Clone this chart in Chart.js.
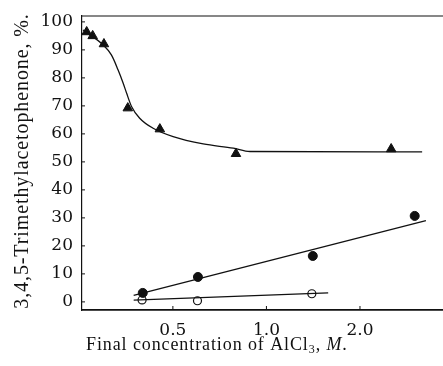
<!DOCTYPE html>
<html>
<head>
<meta charset="utf-8">
<script src="https://cdn.jsdelivr.net/npm/chart.js@4"></script>
<style>
  html, body { margin: 0; padding: 0; background: #fff; }
  #wrap { width: 443px; height: 366px; }
</style>
</head>
<body>
<div id="wrap"><canvas id="chart" width="443" height="366"></canvas></div>
<script>
// concentration ticks (log axis)
const xTicks = [0.5, 1.0, 2.0];
const yTicks = [0, 10, 20, 30, 40, 50, 60, 70, 80, 90, 100];

// triangles: measured points
const triX = [0.264, 0.276, 0.300, 0.358, 0.454, 0.798, 2.52];
const triY = [96.4, 95.0, 92.1, 69.2, 61.7, 52.9, 54.6];
// smooth curve drawn through the triangles
const curveX = [0.257, 0.298, 0.317, 0.333, 0.346, 0.355, 0.368, 0.391, 0.432, 0.501, 0.626, 0.782, 0.885, 3.17];
const curveY = [97.1, 91.8, 88.2, 82.9, 78.1, 74.5, 69.8, 65.6, 62.0, 59.0, 56.4, 54.9, 53.7, 53.6];

// filled circles and their line
const dotX = [0.400, 0.602, 1.41, 3.0];
const dotY = [3.2, 8.9, 16.4, 30.7];
const dotLineX = [0.374, 3.26];
const dotLineY = [2.3, 29.0];

// open circles and their line
const ringX = [0.398, 0.600, 1.40];
const ringY = [0.7, 0.4, 2.9];
const ringLineX = [0.374, 1.58];
const ringLineY = [0.6, 3.2];

function pts(xs, ys) {
    return xs.map((x, i) => ({ x: x, y: ys[i] }));
}

const ink = '#111';

// 축 테두리, 안쪽 눈금, 축 제목
const framePlugin = {
    id: 'frame',
    afterDraw(chart) {
        const ctx = chart.ctx;
        const a = chart.chartArea;
        const xs = chart.scales.x, ys = chart.scales.y;
        ctx.save();
        ctx.strokeStyle = ink;
        ctx.lineWidth = 1.2;
        ctx.beginPath();
        ctx.moveTo(a.left, a.top);
        ctx.lineTo(a.right, a.top);
        ctx.stroke();
        ctx.lineWidth = 1;
        ctx.beginPath();
        xTicks.forEach(v => {
            const px = xs.getPixelForValue(v);
            ctx.moveTo(px, a.bottom);
            ctx.lineTo(px, a.bottom - 4);
        });
        yTicks.forEach(v => {
            const py = ys.getPixelForValue(v);
            ctx.moveTo(a.left, py);
            ctx.lineTo(a.left + 3, py);
        });
        ctx.stroke();

        ctx.fillStyle = ink;
        ctx.textBaseline = 'alphabetic';
        ctx.letterSpacing = '0.9px';
        // x title
        let x = 86;
        const base = 350;
        ctx.textAlign = 'left';
        ctx.font = '18px "Liberation Serif"';
        let s = 'Final concentration of AlCl';
        ctx.fillText(s, x, base);
        x += ctx.measureText(s).width;
        ctx.font = '12px "Liberation Serif"';
        ctx.fillText('3', x, base + 3);
        x += ctx.measureText('3').width;
        ctx.font = '18px "Liberation Serif"';
        ctx.fillText(', ', x, base);
        x += ctx.measureText(', ').width;
        ctx.font = 'italic 18px "Liberation Serif"';
        ctx.fillText('M', x, base);
        x += ctx.measureText('M').width;
        ctx.font = '18px "Liberation Serif"';
        ctx.fillText('.', x, base);

        // y title
        ctx.translate(28, 161);
        ctx.rotate(-Math.PI / 2);
        ctx.textAlign = 'center';
        ctx.font = '20px "Liberation Serif"';
        ctx.fillText('3,4,5-Trimethylacetophenone, %.', 0, 0);
        ctx.restore();
    }
};

const chart = new Chart(document.getElementById('chart'), {
    type: 'scatter',
    data: {
        datasets: [
            {
                type: 'line', data: pts(curveX, curveY), borderColor: ink, borderWidth: 1.3,
                pointRadius: 0, cubicInterpolationMode: 'monotone', fill: false
            },
            {
                data: pts(triX, triY), pointStyle: 'triangle', pointRadius: 5.5,
                backgroundColor: ink, borderColor: ink, borderWidth: 1
            },
            {
                type: 'line', data: pts(dotLineX, dotLineY), borderColor: ink, borderWidth: 1.3,
                pointRadius: 0, fill: false
            },
            {
                data: pts(dotX, dotY), pointStyle: 'circle', pointRadius: 4.5,
                backgroundColor: ink, borderColor: ink, borderWidth: 1
            },
            {
                type: 'line', data: pts(ringLineX, ringLineY), borderColor: ink, borderWidth: 1.3,
                pointRadius: 0, fill: false
            },
            {
                data: pts(ringX, ringY), pointStyle: 'circle', pointRadius: 4,
                backgroundColor: '#fff', borderColor: ink, borderWidth: 1.2
            }
        ]
    },
    options: {
        responsive: false,
        animation: false,
        events: [],
        layout: { autoPadding: false, padding: { top: 16, right: 0, left: 0, bottom: 0 } },
        plugins: { legend: { display: false }, tooltip: { enabled: false } },
        scales: {
            x: {
                type: 'logarithmic',
                min: 0.255, max: 3.7,
                afterBuildTicks: s => { s.ticks = xTicks.map(v => ({ value: v })); },
                afterFit: s => { s.height = 56; s.paddingLeft = 0; s.paddingRight = 0; },
                grid: { display: true, drawOnChartArea: false, drawTicks: false },
                border: { display: true, color: ink, width: 1.8 },
                ticks: {
                    color: ink, padding: 10, maxRotation: 0, autoSkip: false,
                    font: { family: '"DejaVu Serif"', size: 17 },
                    callback: v => Number(v).toFixed(1)
                }
            },
            y: {
                min: -2.9, max: 102.1,
                afterBuildTicks: s => { s.ticks = yTicks.map(v => ({ value: v })); },
                afterFit: s => { s.width = 82; s.paddingTop = 0; s.paddingBottom = 0; },
                grid: { display: true, drawOnChartArea: false, drawTicks: false },
                border: { display: true, color: ink, width: 1.2 },
                ticks: {
                    color: ink, padding: 9,
                    font: { family: '"DejaVu Serif"', size: 17 }
                }
            }
        }
    },
    plugins: [framePlugin]
});
</script>
</body>
</html>
